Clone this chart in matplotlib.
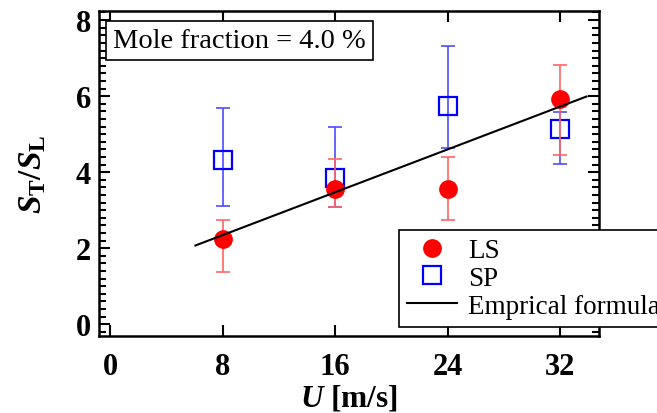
import matplotlib
matplotlib.use("Agg")
import matplotlib.pyplot as plt
from matplotlib.ticker import MultipleLocator

plt.rcParams['font.family'] = ['Liberation Serif', 'DejaVu Serif']
plt.rcParams['mathtext.fontset'] = 'custom'
plt.rcParams['mathtext.rm'] = 'Liberation Serif:bold'
plt.rcParams['mathtext.it'] = 'Liberation Serif:italic:bold'
plt.rcParams['mathtext.bf'] = 'Liberation Serif:bold'

# ---- data ----
u = [8, 16, 24, 32]
ls_y = [2.24, 3.56, 3.56, 5.93]
ls_up = [2.73, 4.35, 4.39, 6.81]
ls_lo = [1.37, 3.09, 2.74, 4.46]
sp_y = [4.33, 3.85, 5.75, 5.14]
sp_up = [5.69, 5.18, 7.32, 5.59]
sp_lo = [3.12, 3.09, 4.64, 4.22]
formula_x = [6.05, 33.9]
formula_y = [2.07, 5.99]
xticks = [0, 8, 16, 24, 32]
yticks = [0, 2, 4, 6, 8]
title_text = 'Mole fraction = 4.0 %'

fig = plt.figure(figsize=(6.57, 4.14), dpi=100)
ax = fig.add_axes([0.151, 0.187, 0.761, 0.785])

ls_err = [[y - lo for y, lo in zip(ls_y, ls_lo)], [up - y for y, up in zip(ls_y, ls_up)]]
sp_err = [[y - lo for y, lo in zip(sp_y, sp_lo)], [up - y for y, up in zip(sp_y, sp_up)]]

ax.errorbar(u, sp_y, yerr=sp_err, fmt='none', ecolor=(0.3, 0.3, 1.0), elinewidth=1.2,
            capsize=5, capthick=1.2, zorder=2)
ax.plot(u, sp_y, linestyle='none', marker='s', markersize=12.5, markerfacecolor='none',
        markeredgecolor='#0000ff', markeredgewidth=1.6, zorder=3, label='SP')
ax.errorbar(u, ls_y, yerr=ls_err, fmt='none', ecolor=(1.0, 0.4, 0.4), elinewidth=1.2,
            capsize=5, capthick=1.2, zorder=4)
ax.plot(u, ls_y, linestyle='none', marker='o', markersize=13.5, color='#ff0000',
        markeredgewidth=0, zorder=5, label='LS')
ax.plot(formula_x, formula_y, color='black', linewidth=1.5, zorder=6, label='Emprical formula')

ax.set_xlim(-0.8, 34.8)
ax.set_ylim(-0.3, 8.25)
ax.set_xticks(xticks)
ax.set_yticks(yticks)
ax.yaxis.set_minor_locator(MultipleLocator(0.2))
ax.tick_params(which='both', direction='in', top=True, right=True, width=1.5)
ax.tick_params(which='major', length=8, labelsize=22)
ax.tick_params(axis='x', which='major', pad=12)
ax.tick_params(axis='y', which='major', pad=6)
ax.tick_params(which='minor', length=5)
for lab in ax.get_xticklabels() + ax.get_yticklabels():
    lab.set_fontweight('bold')
for s in ax.spines.values():
    s.set_linewidth(1.8)

ax.set_xlabel(r'$U$ [m/s]', fontsize=22.5, fontweight='bold', labelpad=1)
ax.set_ylabel(r'$S_{\mathrm{T}}/S_{\mathrm{L}}$', fontsize=24, labelpad=20)

ax.text(0.028, 0.947, title_text, transform=ax.transAxes, fontsize=20.5, va='top', ha='left',
        bbox=dict(boxstyle='square,pad=0.25', facecolor='white', edgecolor='black', linewidth=1.2))

h, l = ax.get_legend_handles_labels()
order = [1, 0, 2]
leg = ax.legend([h[i] for i in order], [l[i] for i in order], loc='lower left',
                bbox_to_anchor=(0.6, 0.027), borderaxespad=0, fontsize=19.5, frameon=True,
                fancybox=False, edgecolor='black', framealpha=1, handlelength=1.85,
                handletextpad=0.4, labelspacing=0.1, borderpad=0.3)
leg.get_frame().set_linewidth(1.2)
leg.set_zorder(10)
leg.set_clip_on(False)

fig.savefig('out.png', dpi=100)
